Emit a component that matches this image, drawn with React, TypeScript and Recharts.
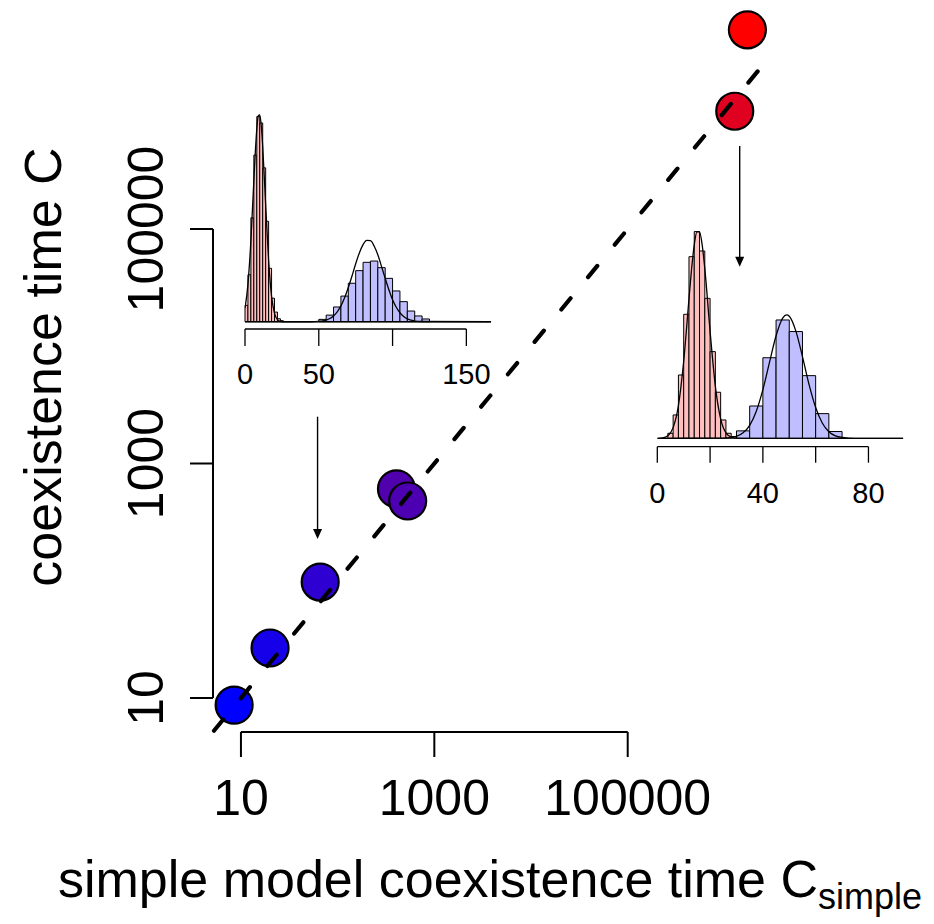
import React from 'react';
import {
  ScatterChart,
  Scatter,
  ComposedChart,
  Line,
  XAxis,
  YAxis,
  ReferenceLine,
  ReferenceArea,
  Cell,
} from 'recharts';

const FONT = '"Liberation Sans", Arial, Helvetica, sans-serif';

// main panel: coexistence time of the simple model vs the full model
const C_SIMPLE = [8.5, 20, 66, 406, 530, 1.28e6, 1.73e6];
const C_FULL = [8.7, 26.7, 97.5, 607, 479, 1.01e6, 5.0e6];
const POINT_COLORS = ['#0000FF', '#1600E9', '#2E00D1', '#5100AE', '#4D00B2', '#E0001F', '#FF0000'];
const LOG_TICKS = [10, 1000, 100000];
const LOG_TICK_LABELS = ['10', '1000', '100000'];
const X_RANGE = [5.14, 3.76e6];
const Y_RANGE = [5.13, 8.51e6];
const DIAGONAL = [5.26, 3.16e6];
// arrows from the insets down to the points they describe
const ARROW_A = { x: 62, from: 2506, to: 227 };
const ARROW_B = { x: 1.44e6, from: 5.1e5, to: 4.76e4 };

// left inset (the point near C = 100)
const L_RED_EDGES = [0, 2, 4, 6, 8, 10, 12, 14, 16, 18, 20, 22, 24, 26];
const L_RED_DENS = [0.0077, 0.022, 0.0486, 0.078, 0.096, 0.093, 0.072, 0.047, 0.025, 0.011, 0.0045, 0.0014, 0.0005];
const L_BLUE_EDGES = [50, 55, 60, 65, 70, 75, 80, 85, 90, 95, 100, 105, 110, 115, 120, 125];
const L_BLUE_DENS = [0.0011, 0.0031, 0.0069, 0.012, 0.018, 0.0239, 0.0278, 0.0284, 0.0253, 0.0203, 0.0144, 0.0094, 0.005, 0.0027, 0.0013];
const L_RED_CURVE_X = [0, 2, 4, 6, 8, 9, 10, 11, 12, 14, 16, 18, 20, 22, 24, 26, 40, 166.7];
const L_RED_CURVE_Y = [0.0063, 0.0176, 0.038, 0.0662, 0.0902, 0.0963, 0.0968, 0.0919, 0.082, 0.0547, 0.0288, 0.0119, 0.0039, 0.001, 0.0002, 0, 0, 0];
const L_BLUE_CURVE_X = [0, 45, 50, 52.5, 55, 57.5, 60, 62.5, 65, 67.5, 70, 72.5, 75, 77.5, 80, 82.5, 85, 87.5, 90, 92.5, 95, 97.5, 100, 102.5, 105, 107.5, 110, 112.5, 115, 120, 166.7];
const L_BLUE_CURVE_Y = [0, 0, 0.0002, 0.0004, 0.0008, 0.0015, 0.0027, 0.0046, 0.0074, 0.0112, 0.016, 0.0214, 0.0271, 0.0322, 0.0361, 0.0381, 0.0379, 0.0354, 0.0313, 0.0259, 0.0203, 0.015, 0.0103, 0.0068, 0.0042, 0.0024, 0.0013, 0.0007, 0.0003, 0.0001, 0];
const L_TICKS = [0, 50, 100, 150];
const L_TICK_LABELS = ['0', '50', '', '150'];

// right inset (the point near C = 10^6)
const R_RED_EDGES = [4, 6, 8, 10, 12, 14, 16, 18, 20, 22, 24, 26, 28, 30];
const R_RED_DENS = [0.0023, 0.0107, 0.029, 0.0568, 0.0832, 0.0947, 0.0858, 0.0641, 0.0397, 0.0211, 0.0084, 0.0023, 0.0008];
const R_BLUE_EDGES = [30, 35, 40, 45, 50, 55, 60, 65, 70];
const R_BLUE_DENS = [0.0034, 0.0148, 0.0369, 0.0542, 0.0489, 0.0287, 0.0113, 0.0031];
const R_RED_CURVE_X = [0, 2, 4, 6, 8, 10, 12, 13, 14, 15, 16, 17, 18, 20, 22, 24, 26, 28, 30, 34, 93.2];
const R_RED_CURVE_Y = [0, 0.0002, 0.0012, 0.0049, 0.015, 0.0353, 0.0638, 0.0777, 0.0886, 0.0946, 0.0946, 0.0886, 0.0777, 0.049, 0.0238, 0.0089, 0.0025, 0.0006, 0.0001, 0, 0];
const R_BLUE_CURVE_X = [0, 25, 30, 32.5, 35, 37.5, 40, 42.5, 45, 47.5, 49, 50, 52.5, 55, 57.5, 60, 62.5, 65, 67.5, 70, 75, 93.2];
const R_BLUE_CURVE_Y = [0, 0.0001, 0.0009, 0.0025, 0.0059, 0.0124, 0.0223, 0.0348, 0.047, 0.0551, 0.0565, 0.0559, 0.0491, 0.0374, 0.0246, 0.0141, 0.007, 0.003, 0.0011, 0.0004, 0, 0];
const R_TICKS = [0, 20, 40, 60, 80];
const R_TICK_LABELS = ['0', '', '40', '', '80'];

const POINTS = C_SIMPLE.map((x, i) => ({ x, y: C_FULL[i] }));

const RED_FILL = '#FFBFBF';
const BLUE_FILL = '#BFBFFF';

const dotShape = (p: any) => (
  <circle cx={p.cx} cy={p.cy} r={18.5} fill={p.fill} stroke="#000" strokeWidth={2.2} />
);

const arrowShape = (p: any) => {
  const x1 = Number(p.x1);
  const y1 = Number(p.y1);
  const x2 = Number(p.x2);
  const y2 = Number(p.y2);
  return (
    <g>
      <line x1={x1} y1={y1} x2={x2} y2={y2 - 8} stroke="#000" strokeWidth={1.4} />
      <polygon points={`${x2},${y2} ${x2 - 4.5},${y2 - 10} ${x2 + 4.5},${y2 - 10}`} fill="#000" />
    </g>
  );
};

const XTick = (props: any) => {
  const { x, y, payload } = props;
  const i = LOG_TICKS.indexOf(payload.value);
  return (
    <text x={x} y={y + 58} textAnchor="middle" fontSize={50} fontFamily={FONT} fill="#000">
      {LOG_TICK_LABELS[i]}
    </text>
  );
};

const YTick = (props: any) => {
  const { x, y, payload } = props;
  const i = LOG_TICKS.indexOf(payload.value);
  const bx = x - 27;
  return (
    <text
      x={bx}
      y={y}
      transform={`rotate(-90 ${bx} ${y})`}
      textAnchor="middle"
      fontSize={50}
      fontFamily={FONT}
      fill="#000"
    >
      {LOG_TICK_LABELS[i]}
    </text>
  );
};

function toCurve(xs: number[], ys: number[]) {
  return xs.map((v, i) => ({ v, d: ys[i] }));
}

function bars(edges: number[], dens: number[], fill: string, key: string) {
  return dens.map((d, i) => (
    <ReferenceArea
      key={key + i}
      x1={edges[i]}
      x2={edges[i + 1]}
      y1={0}
      y2={d}
      fill={fill}
      fillOpacity={1}
      stroke="#000"
      strokeWidth={1}
      ifOverflow="visible"
    />
  ));
}

type InsetProps = {
  box: { left: number; top: number; width: number; height: number };
  margin: { top: number; right: number; bottom: number; left: number };
  axisHeight: number;
  xDomain: number[];
  yDomain: number[];
  ticks: number[];
  tickLabels: string[];
  labelDy: number;
  tickSize: number;
  redEdges: number[];
  redDens: number[];
  blueEdges: number[];
  blueDens: number[];
  redCurve: { v: number; d: number }[];
  blueCurve: { v: number; d: number }[];
};

function Inset(p: InsetProps) {
  const tick = (t: any) => {
    const i = p.ticks.indexOf(t.payload.value);
    return (
      <text x={t.x} y={t.y + p.labelDy} textAnchor="middle" fontSize={29} fontFamily={FONT} fill="#000">
        {p.tickLabels[i]}
      </text>
    );
  };
  return (
    <div style={{ position: 'absolute', ...p.box }}>
      <ComposedChart width={p.box.width} height={p.box.height} margin={p.margin}>
        <XAxis
          type="number"
          dataKey="v"
          domain={p.xDomain}
          allowDataOverflow
          ticks={p.ticks}
          interval={0}
          axisLine={false}
          stroke="#000"
          tickLine={{ stroke: '#000', strokeWidth: 1.3 }}
          tickSize={p.tickSize}
          tickMargin={0}
          tick={tick}
          height={p.axisHeight}
        />
        <YAxis type="number" hide domain={p.yDomain} allowDataOverflow />
        <ReferenceLine
          segment={[
            { x: p.ticks[0], y: p.yDomain[0] },
            { x: p.ticks[p.ticks.length - 1], y: p.yDomain[0] },
          ]}
          stroke="#000"
          strokeWidth={1.3}
          ifOverflow="visible"
        />
        {bars(p.redEdges, p.redDens, RED_FILL, 'r')}
        {bars(p.blueEdges, p.blueDens, BLUE_FILL, 'b')}
        <Line
          data={p.redCurve}
          dataKey="d"
          type="monotone"
          stroke="#000"
          strokeWidth={1.3}
          dot={false}
          activeDot={false}
          isAnimationActive={false}
        />
        <Line
          data={p.blueCurve}
          dataKey="d"
          type="monotone"
          stroke="#000"
          strokeWidth={1.3}
          dot={false}
          activeDot={false}
          isAnimationActive={false}
        />
      </ComposedChart>
    </div>
  );
}

export default function App() {
  return (
    <div
      style={{
        position: 'absolute',
        left: 0,
        top: 0,
        width: 934,
        height: 924,
        background: '#fff',
        fontFamily: FONT,
      }}
    >
      <div style={{ position: 'absolute', left: 0, top: 0 }}>
        <ScatterChart width={934} height={924} margin={{ top: 2.7, right: 154, bottom: 92, left: 13 }}>
          <XAxis
            type="number"
            dataKey="x"
            scale="log"
            domain={X_RANGE}
            allowDataOverflow
            ticks={LOG_TICKS}
            interval={0}
            axisLine={false}
            stroke="#000"
            tickLine={{ stroke: '#000', strokeWidth: 2 }}
            tickSize={25}
            tickMargin={0}
            tick={XTick}
            height={100}
          />
          <YAxis
            type="number"
            dataKey="y"
            scale="log"
            domain={Y_RANGE}
            allowDataOverflow
            ticks={LOG_TICKS}
            interval={0}
            axisLine={false}
            stroke="#000"
            tickLine={{ stroke: '#000', strokeWidth: 2 }}
            tickSize={23}
            tickMargin={0}
            tick={YTick}
            width={200}
          />
          <ReferenceLine
            segment={[
              { x: LOG_TICKS[0], y: Y_RANGE[0] },
              { x: LOG_TICKS[2], y: Y_RANGE[0] },
            ]}
            stroke="#000"
            strokeWidth={2}
            ifOverflow="visible"
          />
          <ReferenceLine
            segment={[
              { x: X_RANGE[0], y: LOG_TICKS[0] },
              { x: X_RANGE[0], y: LOG_TICKS[2] },
            ]}
            stroke="#000"
            strokeWidth={2}
            ifOverflow="visible"
          />
          <Scatter data={POINTS} isAnimationActive={false} shape={dotShape}>
            {POINTS.map((_, i) => (
              <Cell key={i} fill={POINT_COLORS[i]} />
            ))}
          </Scatter>
          <ReferenceLine
            segment={[
              { x: DIAGONAL[0], y: DIAGONAL[0] },
              { x: DIAGONAL[1], y: DIAGONAL[1] },
            ]}
            stroke="#000"
            strokeWidth={4.2}
            strokeDasharray="14.5 27.5"
            strokeLinecap="round"
            ifOverflow="visible"
            zIndex={700}
          />
          <ReferenceLine
            segment={[
              { x: ARROW_A.x, y: ARROW_A.from },
              { x: ARROW_A.x, y: ARROW_A.to },
            ]}
            shape={arrowShape}
            ifOverflow="visible"
          />
          <ReferenceLine
            segment={[
              { x: ARROW_B.x, y: ARROW_B.from },
              { x: ARROW_B.x, y: ARROW_B.to },
            ]}
            shape={arrowShape}
            ifOverflow="visible"
          />
        </ScatterChart>
      </div>

      <Inset
        box={{ left: 200, top: 90, width: 320, height: 310 }}
        margin={{ top: 18, right: 29, bottom: 0, left: 45 }}
        axisHeight={71}
        xDomain={[0, 166.7]}
        yDomain={[-0.0034, 0.1]}
        ticks={L_TICKS}
        tickLabels={L_TICK_LABELS}
        labelDy={38}
        tickSize={17}
        redEdges={L_RED_EDGES}
        redDens={L_RED_DENS}
        blueEdges={L_BLUE_EDGES}
        blueDens={L_BLUE_DENS}
        redCurve={toCurve(L_RED_CURVE_X, L_RED_CURVE_Y)}
        blueCurve={toCurve(L_BLUE_CURVE_X, L_BLUE_CURVE_Y)}
      />
      <Inset
        box={{ left: 620, top: 200, width: 314, height: 310 }}
        margin={{ top: 20, right: 30.7, bottom: 0, left: 37.3 }}
        axisHeight={63.3}
        xDomain={[0, 93.2]}
        yDomain={[-0.00385, 0.1]}
        ticks={R_TICKS}
        tickLabels={R_TICK_LABELS}
        labelDy={40}
        tickSize={16}
        redEdges={R_RED_EDGES}
        redDens={R_RED_DENS}
        blueEdges={R_BLUE_EDGES}
        blueDens={R_BLUE_DENS}
        redCurve={toCurve(R_RED_CURVE_X, R_RED_CURVE_Y)}
        blueCurve={toCurve(R_BLUE_CURVE_X, R_BLUE_CURVE_Y)}
      />

      <svg width={934} height={924} style={{ position: 'absolute', left: 0, top: 0, pointerEvents: 'none' }}>
        <text x={490} y={897} textAnchor="middle" fontSize={52} fontFamily={FONT} fill="#000">
          simple model coexistence time C
          <tspan fontSize={36} dy={12}>
            simple
          </tspan>
        </text>
        <text
          x={61}
          y={367}
          transform="rotate(-90 61 367)"
          textAnchor="middle"
          fontSize={52}
          fontFamily={FONT}
          fill="#000"
        >
          coexistence time C
        </text>
      </svg>
    </div>
  );
}
